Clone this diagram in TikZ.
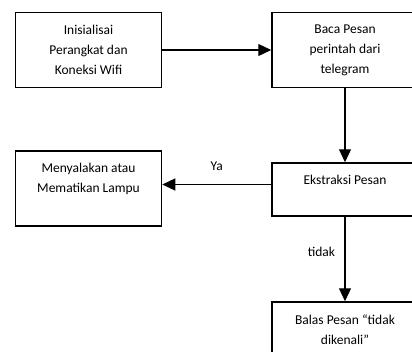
\documentclass[tikz,border=0pt]{standalone}
\usepackage{fontspec}
\setmainfont{Carlito}
\usetikzlibrary{arrows.meta,positioning}
\tikzset{
    box/.style={draw, line width=1.5pt, align=center, minimum width=146pt,
        minimum height=75pt, inner sep=0pt, font=\fontsize{13.5}{20}\selectfont},
    flow/.style={line width=1.2pt, -{Triangle[length=13pt,width=12pt]}},
    lbl/.style={font=\fontsize{13.5}{20}\selectfont}
}
\begin{document}
\begin{tikzpicture}[x=1pt,y=-1pt]
\useasboundingbox (0,0) rectangle (412,351);
\clip (0,0) rectangle (412,351);
% kotak proses
\node[box] (init) at (88.5,50) {Inisialisai\\Perangkat dan\\Koneksi Wifi};
\node[box] (baca) at (345,50) {Baca Pesan\\perintah dari\\telegram};
\node[box] (lampu) at (88.5,188.5) {Menyalakan atau\\Mematikan Lampu\\[-4pt]\strut};
\node[box, minimum height=53pt] (ekstrak) at (345,189.5) {Ekstraksi Pesan\\[-6pt]\strut};
\node[box] (balas) at (345,339.5) {Balas Pesan ``tidak\\dikenali''\\[-6pt]\strut};
% panah
\draw[flow] (init) -- (baca);
\draw[flow] (baca) -- (ekstrak);
\draw[flow] ([yshift=5pt]ekstrak.west) -- ([yshift=5pt]ekstrak.west -| lampu.east)
    node[lbl, midway, above=10pt] {Ya};
\draw[flow] (ekstrak) -- (balas)
    node[lbl, midway, left=6pt, yshift=7pt] {tidak};
\end{tikzpicture}
\end{document}
